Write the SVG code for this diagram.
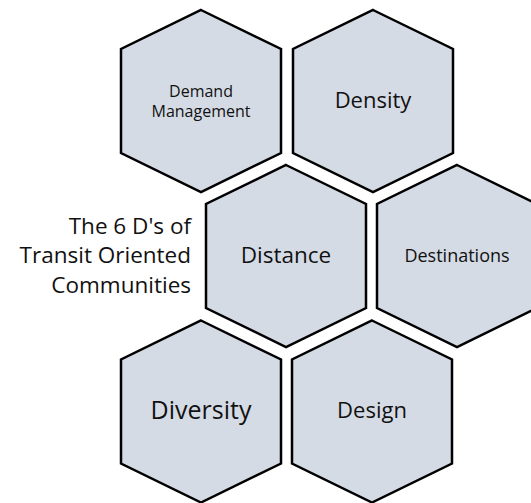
<svg xmlns="http://www.w3.org/2000/svg" xmlns:xlink="http://www.w3.org/1999/xlink" width="531" height="503" viewBox="0 0 531 503">
  <style>
    .hex { fill: #d5dbe5; stroke: #000; stroke-width: 2.5; stroke-linejoin: miter; }
    .lbl { font-family: "Open Sans", "Liberation Sans", sans-serif; fill: #111; text-anchor: middle; }
    .title { font-family: "Open Sans", "Liberation Sans", sans-serif; fill: #111; text-anchor: end; font-size: 22.5px; }
  </style>
  <defs>
    <!-- pointy-top hexagon, origin at the top vertex -->
    <path id="hexShape" d="M0,0 L80,39 L80,143 L0,182 L-80,143 L-80,39 Z"/>
  </defs>
  <rect width="531" height="503" fill="#fff"/>

  <g id="connectors"/>

  <g id="title">
    <text class="title" x="191" y="234">The 6 D's of</text>
    <text class="title" x="191" y="263">Transit Oriented</text>
    <text class="title" x="191" y="293">Communities</text>
  </g>

  <g id="node-demand-management">
    <use xlink:href="#hexShape" class="hex" x="201" y="10"/>
    <text class="lbl" x="201" y="97" font-size="16px">Demand</text>
    <text class="lbl" x="201" y="117" font-size="16px">Management</text>
  </g>

  <g id="node-density">
    <use xlink:href="#hexShape" class="hex" x="373" y="10"/>
    <text class="lbl" x="373" y="108" font-size="22px">Density</text>
  </g>

  <g id="node-distance">
    <use xlink:href="#hexShape" class="hex" x="286" y="165"/>
    <text class="lbl" x="286" y="263" font-size="22.5px">Distance</text>
  </g>

  <g id="node-destinations">
    <use xlink:href="#hexShape" class="hex" x="457" y="165"/>
    <text class="lbl" x="457" y="262" font-size="18px">Destinations</text>
  </g>

  <g id="node-diversity">
    <use xlink:href="#hexShape" class="hex" x="201" y="320.5"/>
    <text class="lbl" x="201" y="419" font-size="25px">Diversity</text>
  </g>

  <g id="node-design">
    <use xlink:href="#hexShape" class="hex" x="372" y="320.5"/>
    <text class="lbl" x="372" y="418" font-size="22px">Design</text>
  </g>
</svg>
